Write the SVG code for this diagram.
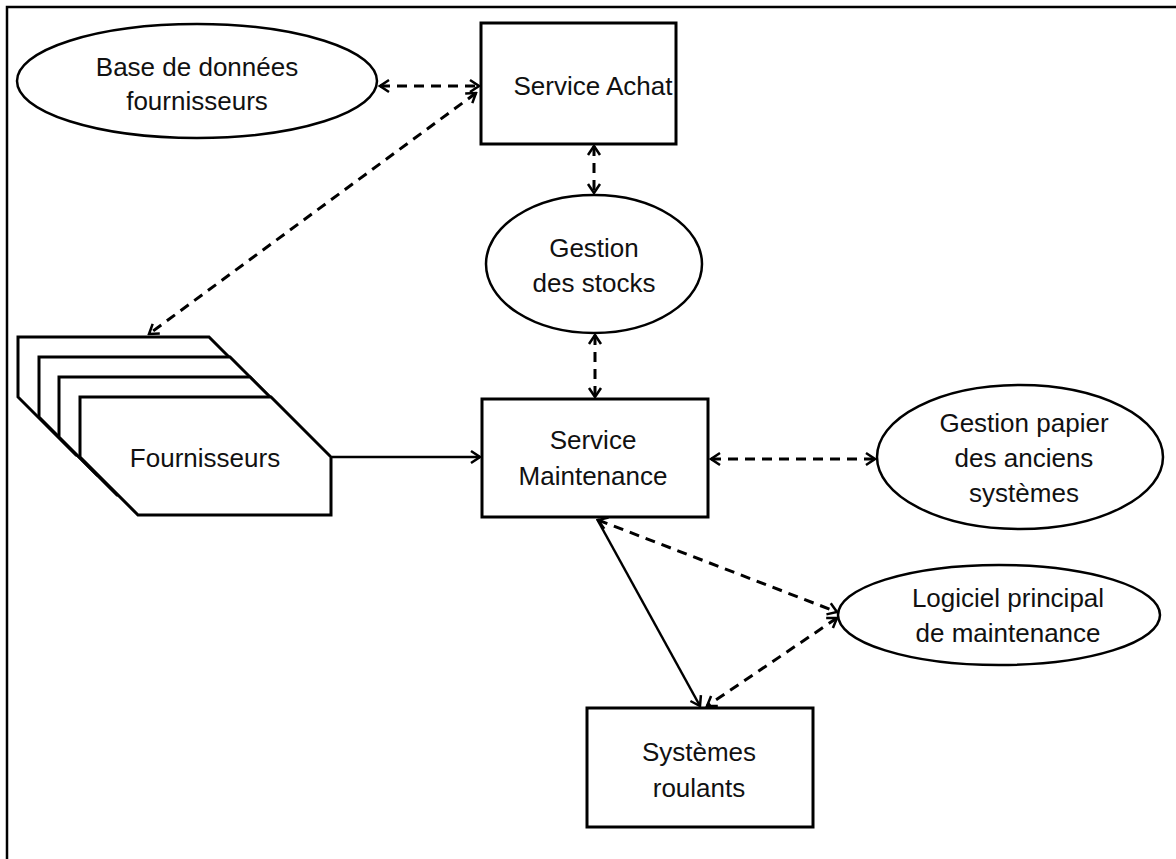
<svg xmlns="http://www.w3.org/2000/svg" width="1176" height="859" viewBox="0 0 1176 859">
<defs>
<style>
.box{fill:#fff;stroke:#000;stroke-width:3}
.ell{fill:#fff;stroke:#000;stroke-width:2.5}
.t{font-family:"Liberation Sans",Arial,sans-serif;font-size:26px;fill:#111;text-anchor:middle}
.c{fill:none;stroke:#000;stroke-width:2.5}
.d{stroke-width:3;stroke-dasharray:10 7}
</style>
<marker id="ah" markerUnits="userSpaceOnUse" viewBox="-12 -8 14 16" refX="0" refY="0" markerWidth="14" markerHeight="16" orient="auto-start-reverse">
<path d="M-9,-6 L0,0 L-9,6" fill="none" stroke="#000" stroke-width="2.5"/>
</marker>
</defs>
<rect x="0" y="0" width="1176" height="859" fill="#fff"/>
<path d="M7 859 L7 7 L1176 7" fill="none" stroke="#000" stroke-width="2.5"/>

<g id="connectors">
<path class="c d" d="M380 86 L479 86" marker-start="url(#ah)" marker-end="url(#ah)"/>
<path class="c d" d="M476 93 L149 334" marker-start="url(#ah)" marker-end="url(#ah)"/>
<path class="c d" d="M594 146 L594 193" marker-start="url(#ah)" marker-end="url(#ah)"/>
<path class="c d" d="M595 335 L595 397" marker-start="url(#ah)" marker-end="url(#ah)"/>
<path class="c" d="M332 457 L480 457" marker-end="url(#ah)"/>
<path class="c d" d="M711 459 L875 459" marker-start="url(#ah)" marker-end="url(#ah)"/>
<path class="c d" d="M598 520 L837 612" marker-start="url(#ah)" marker-end="url(#ah)"/>
<path class="c d" d="M837 618 L707 706" marker-start="url(#ah)" marker-end="url(#ah)"/>
<path class="c" d="M597 519 L700 706" marker-end="url(#ah)"/>
</g>

<g id="base-donnees">
<ellipse class="ell" cx="197" cy="81" rx="180" ry="57"/>
<text class="t" x="197" y="76">Base de données</text>
<text class="t" x="197" y="110">fournisseurs</text>
</g>

<g id="service-achat">
<rect class="box" x="481" y="23" width="195" height="121"/>
<text class="t" x="593" y="95">Service Achat</text>
</g>

<g id="gestion-stocks">
<ellipse class="ell" cx="594" cy="264" rx="108" ry="69"/>
<text class="t" x="594" y="257">Gestion</text>
<text class="t" x="594" y="292">des stocks</text>
</g>

<g id="fournisseurs">
<path class="box" d="M18 337 L209 337 L269 397 L269 455 L76 455 L18 397 Z"/>
<path class="box" d="M39 357 L230 357 L290 417 L290 475 L97 475 L39 417 Z"/>
<path class="box" d="M59 377 L250 377 L310 437 L310 495 L117 495 L59 437 Z"/>
<path class="box" d="M80 397 L271 397 L331 457 L331 515 L138 515 L80 457 Z"/>
<text class="t" x="205" y="467">Fournisseurs</text>
</g>

<g id="service-maintenance">
<rect class="box" x="482" y="399" width="226" height="118"/>
<text class="t" x="593" y="449">Service</text>
<text class="t" x="593" y="485">Maintenance</text>
</g>

<g id="gestion-papier">
<ellipse class="ell" cx="1020" cy="457" rx="143" ry="72"/>
<text class="t" x="1024" y="432">Gestion papier</text>
<text class="t" x="1024" y="467">des anciens</text>
<text class="t" x="1024" y="502">systèmes</text>
</g>

<g id="logiciel">
<ellipse class="ell" cx="999" cy="615" rx="161" ry="50"/>
<text class="t" x="1008" y="607">Logiciel principal</text>
<text class="t" x="1008" y="642">de maintenance</text>
</g>

<g id="systemes-roulants">
<rect class="box" x="587" y="708" width="226" height="119"/>
<text class="t" x="699" y="761">Systèmes</text>
<text class="t" x="699" y="797">roulants</text>
</g>
</svg>
